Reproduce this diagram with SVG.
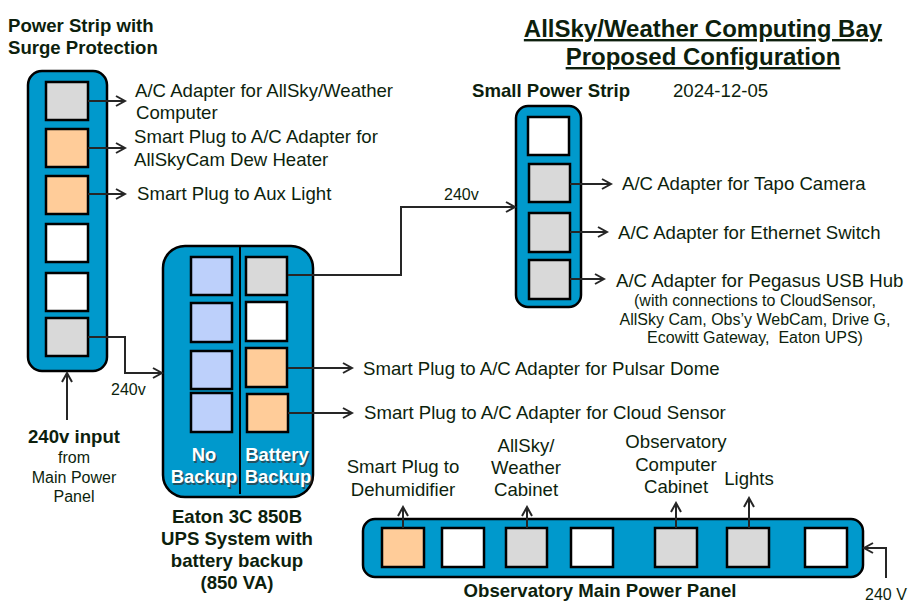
<svg xmlns="http://www.w3.org/2000/svg" width="912" height="608" viewBox="0 0 912 608">
<defs>
<style>
.strip{fill:#0099cc;stroke:#000;stroke-width:2.5}
.s{stroke:#000;stroke-width:2.5}
.g{fill:#d9d9d9}
.w{fill:#fff}
.p{fill:#ffcc99}
.b{fill:#bdd0fb}
.t{font-family:"Liberation Sans",Arial,sans-serif;font-size:18.6px;fill:#0d1f0d}
.sm{font-size:16px}
.bd{font-weight:bold}
.c{text-anchor:middle}
.wt{font-family:"Liberation Sans",Arial,sans-serif;font-size:18.4px;font-weight:bold;fill:#fff;text-anchor:middle}
.sh{font-family:"Liberation Sans",Arial,sans-serif;font-size:18.4px;font-weight:bold;fill:#333;text-anchor:middle;opacity:0.7}
.ln{fill:none;stroke:#262626;stroke-width:2;marker-end:url(#ah)}
</style>
<marker id="ah" markerUnits="userSpaceOnUse" markerWidth="14" markerHeight="14" viewBox="-12 -7 14 14" refX="0" refY="0" orient="auto">
<path d="M-9,-5 L0,0 L-9,5" fill="none" stroke="#262626" stroke-width="2"/>
</marker>
</defs>
<rect width="912" height="608" fill="#fff"/>

<g id="title">
<text class="t bd c" x="703" y="37" style="font-size:24px;text-decoration:underline">AllSky/Weather Computing Bay</text>
<text class="t bd c" x="703" y="65" style="font-size:24px;text-decoration:underline">Proposed Configuration</text>
<text class="t" x="673" y="97">2024-12-05</text>
</g>

<g id="power-strip">
<text class="t bd" x="8" y="32">Power Strip with</text>
<text class="t bd" x="8" y="54">Surge Protection</text>
<rect class="strip" x="28" y="71" width="79" height="300" rx="14"/>
<rect class="s g" x="46" y="82" width="42" height="38"/>
<rect class="s p" x="46" y="129" width="42" height="38"/>
<rect class="s p" x="46" y="176" width="42" height="38"/>
<rect class="s w" x="46" y="224" width="42" height="38"/>
<rect class="s w" x="46" y="273" width="42" height="38"/>
<rect class="s g" x="46" y="318" width="42" height="38"/>
</g>

<g id="ups">
<rect class="strip" x="163" y="246" width="150" height="251" rx="22"/>
<line x1="240" y1="246" x2="240" y2="494" stroke="#000" stroke-width="2"/>
<rect class="s b" x="191" y="257" width="41" height="38"/>
<rect class="s b" x="191" y="303" width="41" height="39"/>
<rect class="s b" x="191" y="351" width="41" height="38"/>
<rect class="s b" x="191" y="393" width="41" height="39"/>
<rect class="s g" x="246" y="257" width="41" height="38"/>
<rect class="s w" x="246" y="302" width="41" height="39"/>
<rect class="s p" x="246" y="348" width="41" height="39"/>
<rect class="s p" x="247" y="394" width="41" height="38"/>
<text class="sh" x="205.5" y="462.5">No</text>
<text class="sh" x="205.5" y="484.5">Backup</text>
<text class="sh" x="278.5" y="462.5">Battery</text>
<text class="sh" x="279.5" y="484.5">Backup</text>
<text class="wt" x="204" y="461">No</text>
<text class="wt" x="204" y="483">Backup</text>
<text class="wt" x="277" y="461">Battery</text>
<text class="wt" x="278" y="483">Backup</text>
<text class="t bd c" x="237" y="523">Eaton 3C 850B</text>
<text class="t bd c" x="237" y="545">UPS System with</text>
<text class="t bd c" x="237" y="567">battery backup</text>
<text class="t bd c" x="237" y="589">(850 VA)</text>
</g>

<g id="small-strip">
<text class="t bd" x="472" y="97">Small Power Strip</text>
<rect class="strip" x="516" y="106" width="65" height="201" rx="12"/>
<rect class="s w" x="528" y="117" width="41" height="38"/>
<rect class="s g" x="529" y="164" width="41" height="38"/>
<rect class="s g" x="529" y="213" width="41" height="39"/>
<rect class="s g" x="529" y="260" width="41" height="39"/>
</g>

<g id="main-panel">
<rect class="strip" x="363" y="519" width="500" height="58" rx="12"/>
<rect class="s p" x="382" y="528" width="42" height="39"/>
<rect class="s w" x="442" y="528" width="42" height="39"/>
<rect class="s g" x="506" y="528" width="41" height="39"/>
<rect class="s w" x="571" y="528" width="42" height="39"/>
<rect class="s g" x="655" y="528" width="42" height="39"/>
<rect class="s g" x="727" y="528" width="42" height="39"/>
<rect class="s w" x="805" y="528" width="42" height="39"/>
<text class="t bd c" x="600" y="597">Observatory Main Power Panel</text>
</g>

<g id="connectors">
<path class="ln" d="M88,101 H125"/>
<path class="ln" d="M88,148 H125"/>
<path class="ln" d="M88,194 H125"/>
<path class="ln" d="M88,337 H125 V373 H162"/>
<path class="ln" d="M67,420 V373"/>
<path class="ln" d="M288,275 H401 V207 H515"/>
<path class="ln" d="M570,184 H611"/>
<path class="ln" d="M570,232 H607"/>
<path class="ln" d="M570,279 H604"/>
<path class="ln" d="M288,368 H352"/>
<path class="ln" d="M288,413 H352"/>
<path class="ln" d="M403,528 V507"/>
<path class="ln" d="M527,528 V507"/>
<path class="ln" d="M676,528 V503"/>
<path class="ln" d="M749,528 V498"/>
<path class="ln" d="M886,578 V548 H864"/>
</g>

<g id="labels">
<text class="t" x="135" y="97">A/C Adapter for AllSky/Weather</text>
<text class="t" x="136" y="119">Computer</text>
<text class="t" x="134" y="143">Smart Plug to A/C Adapter for</text>
<text class="t" x="134" y="166">AllSkyCam Dew Heater</text>
<text class="t" x="137" y="200">Smart Plug to Aux Light</text>
<text class="t sm" x="111" y="395">240v</text>
<text class="t bd c" x="74" y="443">240v input</text>
<text class="t sm c" x="74" y="463">from</text>
<text class="t sm c" x="74" y="483">Main Power</text>
<text class="t sm c" x="74" y="502">Panel</text>
<text class="t sm" x="444" y="200">240v</text>
<text class="t" x="622" y="190">A/C Adapter for Tapo Camera</text>
<text class="t" x="618" y="239">A/C Adapter for Ethernet Switch</text>
<text class="t" x="616" y="287">A/C Adapter for Pegasus USB Hub</text>
<text class="t sm c" x="755" y="306">(with connections to CloudSensor,</text>
<text class="t sm c" x="755" y="325">AllSky Cam, Obs’y WebCam, Drive G,</text>
<text class="t sm c" x="755" y="343" xml:space="preserve">Ecowitt Gateway,  Eaton UPS)</text>
<text class="t" x="363" y="375">Smart Plug to A/C Adapter for Pulsar Dome</text>
<text class="t" x="364" y="419">Smart Plug to A/C Adapter for Cloud Sensor</text>
<text class="t c" x="403" y="473">Smart Plug to</text>
<text class="t c" x="403" y="496">Dehumidifier</text>
<text class="t c" x="526" y="452">AllSky/</text>
<text class="t c" x="526" y="474">Weather</text>
<text class="t c" x="526" y="496">Cabinet</text>
<text class="t c" x="676" y="448">Observatory</text>
<text class="t c" x="676" y="471">Computer</text>
<text class="t c" x="676" y="493">Cabinet</text>
<text class="t c" x="749" y="485">Lights</text>
<text class="t sm" x="865" y="600">240 V</text>
</g>
</svg>
